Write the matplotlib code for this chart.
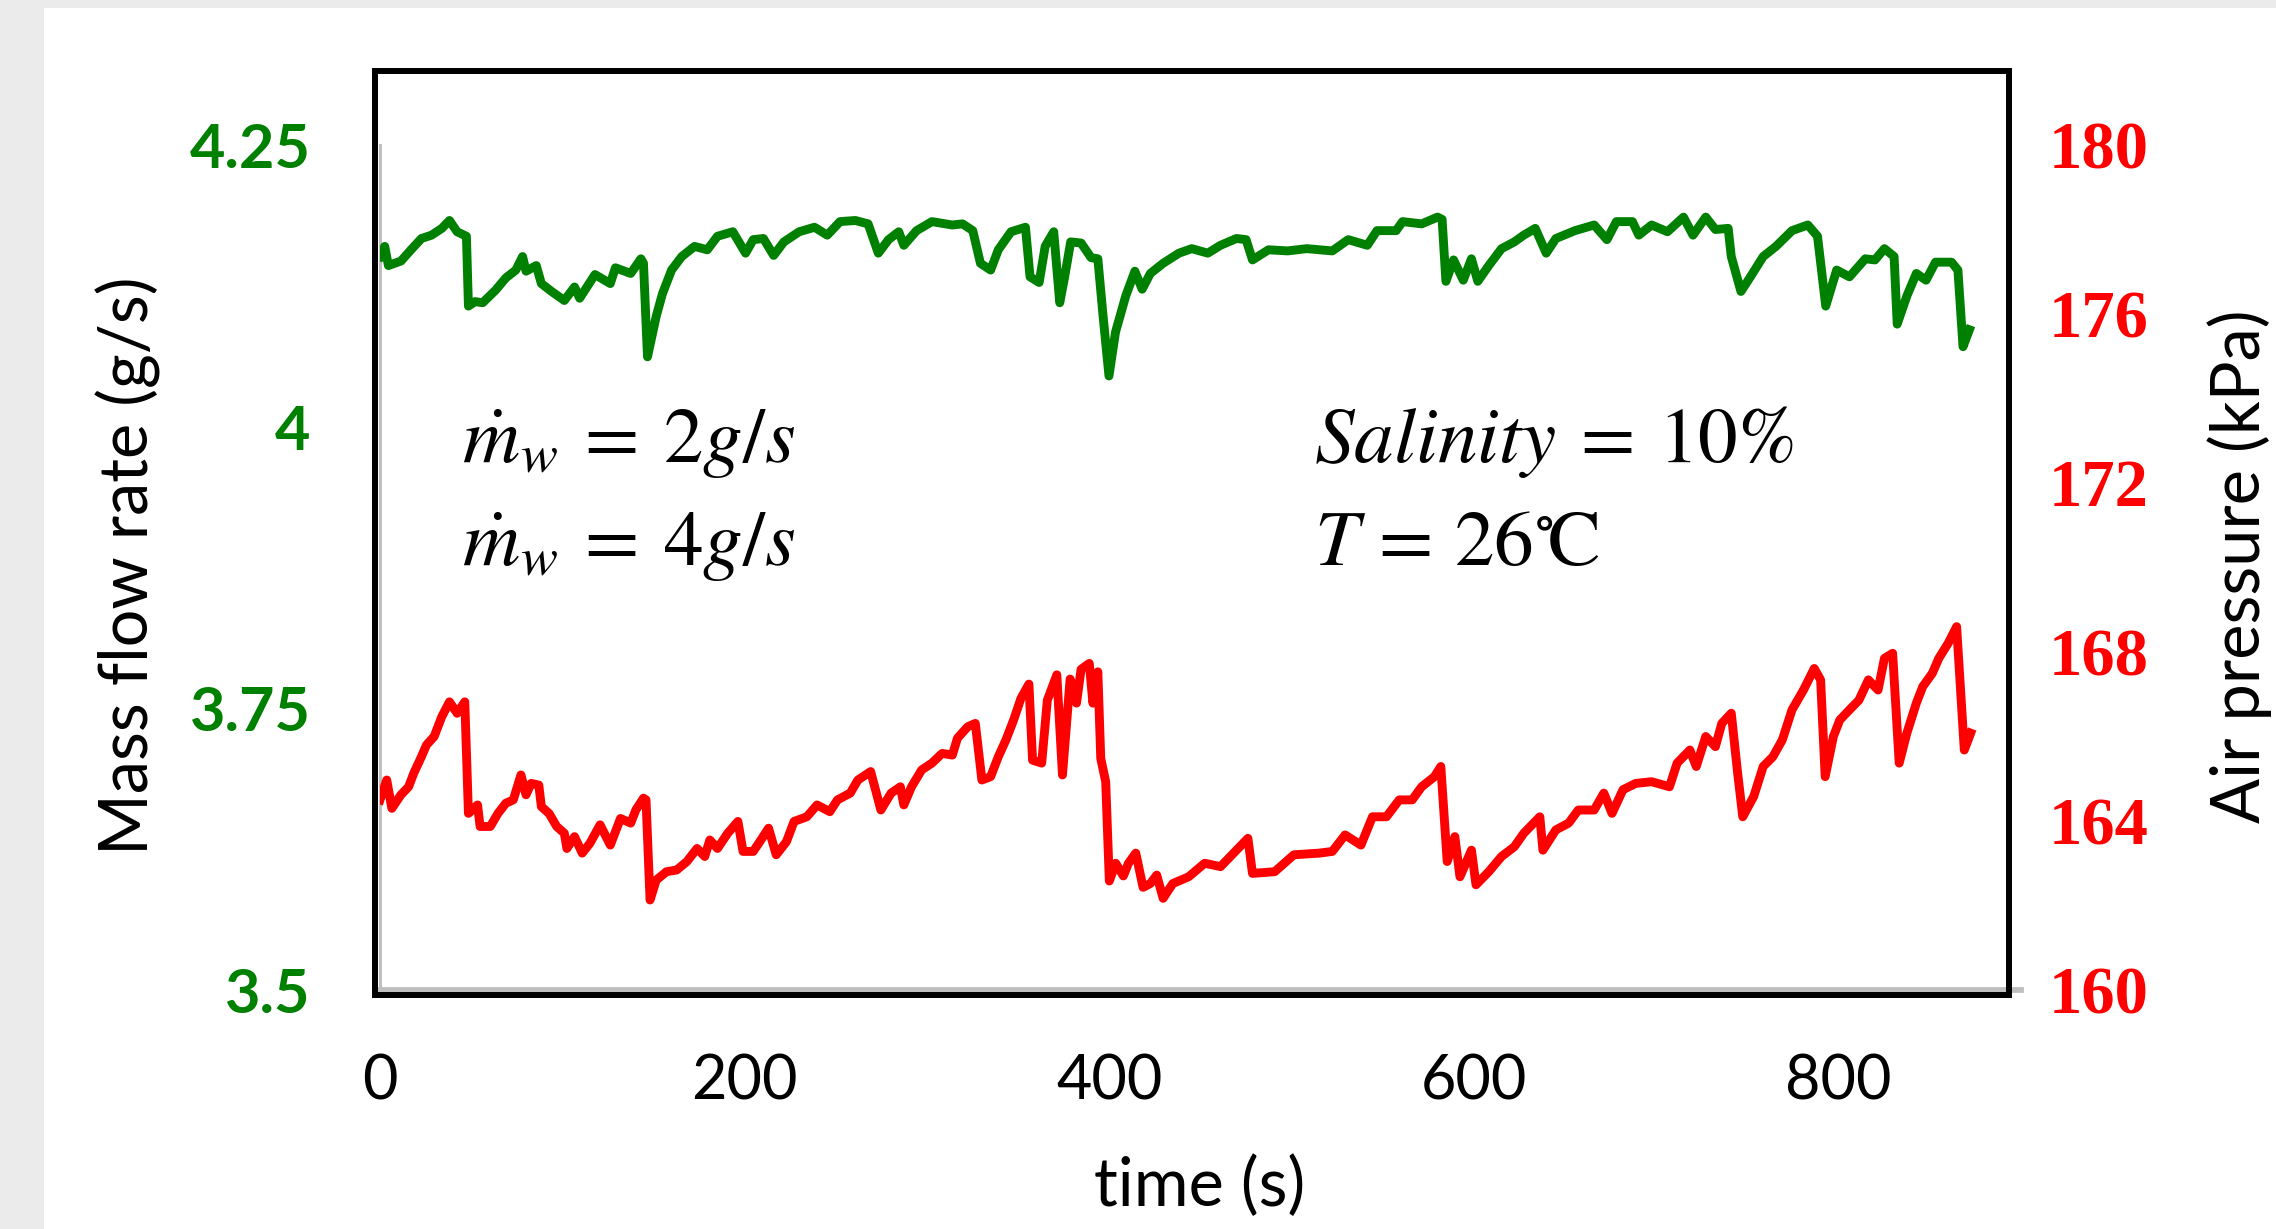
import matplotlib
matplotlib.use('Agg')
import matplotlib.pyplot as plt
from matplotlib.patches import Rectangle

# ---------------- data ----------------
time_green = [0, 2.6, 4.6, 11.5, 17, 22.7, 28.3, 33.9, 38.1, 42.3, 47.4, 48.5, 52.1, 56.3,
              63.3, 69, 74.5, 78.2, 80.1, 85.7, 88.5, 94.1, 101.1, 106.7, 109.5, 117.9,
              126.3, 129.1, 137.5, 143.1, 144.5, 146.7, 151.5, 154.9, 159.9, 165.5, 172.5,
              179.5, 185.1, 193.5, 200.5, 204.7, 210.3, 215.9, 221.5, 229.9, 238.3, 245.3,
              252.3, 260.7, 267.7, 273.3, 278.9, 284.5, 287.3, 294.3, 302.7, 313.9, 319.5,
              325.1, 329.3, 334.9, 339.1, 346.1, 354, 356.5, 361.5, 364.8, 369.5, 372.8,
              375.5, 378.8, 384.5, 390, 393.7, 396.4, 399.8, 403.4, 409, 414, 418, 422.5,
              429.5, 438.2, 445.2, 454, 461, 469.7, 475, 478.5, 487.3, 497.8, 508.3, 522.3,
              531, 541.5, 546.8, 557.3, 560.8, 571.3, 580, 582.5, 584.6, 588.8, 594.1,
              598.6, 602.1, 608.1, 615.1, 622.1, 627.3, 633.6, 639.6, 644.9, 655.4, 665.9,
              672.9, 678.1, 686.9, 690.4, 697.4, 706.1, 714.9, 720.1, 727.1, 732.4, 739.4,
              741.1, 746.4, 751.6, 758.6, 765.6, 774.4, 783.1, 788.4, 792.9, 798.9, 805.9,
              814.6, 819.9, 825.1, 830.4, 832.1, 837.4, 842.6, 847.9, 853.1, 861.9, 865.4,
              868.2, 871.7]
mass_flow = [4.151, 4.160, 4.143, 4.147, 4.157, 4.167, 4.170, 4.176, 4.183, 4.173, 4.169,
             4.107, 4.111, 4.110, 4.121, 4.132, 4.139, 4.151, 4.138, 4.143, 4.127, 4.120,
             4.112, 4.124, 4.114, 4.135, 4.127, 4.141, 4.136, 4.149, 4.145, 4.062, 4.098,
             4.118, 4.139, 4.151, 4.160, 4.157, 4.169, 4.173, 4.154, 4.166, 4.167, 4.152,
             4.164, 4.173, 4.177, 4.170, 4.182, 4.183, 4.180, 4.154, 4.166, 4.173, 4.161,
             4.174, 4.182, 4.179, 4.180, 4.174, 4.145, 4.139, 4.157, 4.173, 4.177, 4.133,
             4.128, 4.160, 4.173, 4.110, 4.133, 4.164, 4.163, 4.150, 4.149, 4.101, 4.045,
             4.084, 4.116, 4.138, 4.122, 4.136, 4.145, 4.154, 4.158, 4.154, 4.161, 4.167,
             4.166, 4.148, 4.157, 4.156, 4.158, 4.156, 4.166, 4.161, 4.174, 4.174, 4.182,
             4.180, 4.186, 4.184, 4.129, 4.148, 4.130, 4.149, 4.129, 4.143, 4.158, 4.164,
             4.170, 4.176, 4.154, 4.167, 4.174, 4.179, 4.166, 4.182, 4.182, 4.170, 4.179,
             4.173, 4.186, 4.170, 4.186, 4.175, 4.176, 4.151, 4.120, 4.133, 4.151, 4.160,
             4.174, 4.179, 4.169, 4.107, 4.139, 4.133, 4.149, 4.148, 4.158, 4.151, 4.091,
             4.116, 4.136, 4.130, 4.146, 4.146, 4.139, 4.071, 4.086]

time_red = [0, 3.7, 6.5, 11.5, 15.7, 18.5, 22.7, 25.5, 29.7, 33.9, 38.1, 42.3, 46.5, 48.5,
            53.5, 54.9, 60.5, 64.7, 69, 73.1, 77.3, 80.1, 82.9, 87.1, 88.5, 92.7, 96.9,
            101.1, 102.5, 106.7, 110.9, 115.1, 120.7, 126.3, 131.9, 137.5, 140.3, 144.5,
            145.9, 148.1, 151.5, 157.1, 162.7, 168.3, 173.9, 178.1, 180.9, 185.1, 190.7,
            196.3, 199.1, 204.7, 208.9, 213.1, 217.3, 222.9, 227.1, 234.1, 239.7, 246.7,
            250.9, 257.9, 262.1, 269.1, 274.7, 280.3, 285.4, 287.3, 291.5, 297.1, 302.7,
            308.3, 313.9, 316.7, 322.3, 326.5, 330.1, 334.9, 339.1, 343.3, 347.5, 351.5,
            355.9, 357.9, 362.9, 366, 371.2, 374.3, 378.5, 382, 384.5, 389, 391, 393.7,
            395.3, 398, 400, 403.5, 407.7, 410.5, 414.5, 418.5, 422.5, 426, 429.5, 434.8,
            443.5, 452.3, 461, 469.7, 476, 478.5, 490.7, 501.2, 515.2, 522.3, 529.3, 538,
            544.3, 552, 559, 566.1, 571.3, 578.3, 581.8, 585.3, 589.5, 592.3, 598.6, 601.1,
            608.1, 615.1, 622.1, 627.3, 636.1, 637.8, 644.9, 651.9, 657.2, 665.9, 671.2,
            675.7, 681.7, 688.7, 697.4, 707.2, 711.4, 718.4, 721.9, 727.1, 732.4, 735.9,
            741.1, 744.6, 747.4, 753.4, 758.6, 763.9, 769.1, 774.4, 780.7, 786.6, 790.1,
            792.6, 797.1, 800.6, 805.9, 811.1, 816.3, 821.6, 825.1, 829.6, 833.2, 837.4,
            842.6, 846.1, 851.4, 854.9, 860.1, 864.7, 868.9, 872.4]
air_pressure = [164.50, 164.97, 164.30, 164.62, 164.81, 165.13, 165.52, 165.80, 166.00,
                166.47, 166.82, 166.55, 166.82, 164.18, 164.38, 163.87, 163.87, 164.18,
                164.42, 164.50, 165.09, 164.62, 164.89, 164.85, 164.34, 164.18, 163.87,
                163.71, 163.35, 163.63, 163.24, 163.47, 163.91, 163.43, 164.06, 163.95,
                164.26, 164.54, 164.50, 162.13, 162.60, 162.80, 162.84, 163.04, 163.35,
                163.16, 163.55, 163.35, 163.71, 163.99, 163.28, 163.28, 163.55, 163.83,
                163.20, 163.51, 163.99, 164.10, 164.38, 164.22, 164.50, 164.66, 164.97,
                165.17, 164.26, 164.66, 164.81, 164.38, 164.81, 165.21, 165.37, 165.60,
                165.56, 165.96, 166.23, 166.31, 164.97, 165.05, 165.52, 165.92, 166.39,
                166.90, 167.24, 165.44, 165.37, 166.86, 167.46, 165.09, 167.36, 166.79,
                167.59, 167.73, 166.79, 167.53, 165.48, 164.93, 162.58, 163.00, 162.70,
                163.00, 163.24, 162.43, 162.52, 162.72, 162.17, 162.52, 162.68, 163.00,
                162.92, 163.31, 163.59, 162.76, 162.80, 163.20, 163.24, 163.28, 163.67,
                163.43, 164.10, 164.10, 164.50, 164.50, 164.81, 165.05, 165.29, 163.04,
                163.63, 162.68, 163.31, 162.49, 162.80, 163.16, 163.39, 163.71, 164.10,
                163.31, 163.79, 163.95, 164.26, 164.26, 164.66, 164.18, 164.74, 164.89,
                164.93, 164.81, 165.37, 165.68, 165.29, 166.00, 165.76, 166.31, 166.55,
                165.13, 164.10, 164.58, 165.29, 165.52, 165.92, 166.63, 167.10, 167.61,
                167.34, 165.05, 166.00, 166.39, 166.63, 166.86, 167.34, 167.10, 167.85,
                167.97, 165.37, 166.08, 166.79, 167.18, 167.50, 167.85, 168.21, 168.60,
                165.68, 166.08]

x_ticks = [0, 200, 400, 600, 800]
x_ticklabels = ['0', '200', '400', '600', '800']
left_ticks = [3.5, 3.75, 4.0, 4.25]
left_ticklabels = ['3.5', '3.75', '4', '4.25']
right_ticks = [160, 164, 168, 172, 176, 180]
right_ticklabels = ['160', '164', '168', '172', '176', '180']

x_label = 'time (s)'
left_label = 'Mass flow rate (g/s)'
right_label = 'Air pressure (kPa)'
notes_left = [r'$\dot{m}_w\:=\:2g/s$', r'$\dot{m}_w\:=\:4g/s$']
notes_right = [r'$Salinity\:=\:10\%$', r'$T\,=\,26{}^{\circ}\!\mathrm{C}$']

# ---------------- figure ----------------
plt.rcParams['mathtext.fontset'] = 'stix'
SANS = ['Lato', 'DejaVu Sans']
W, H, DPI = 2276, 1229, 100
fig = plt.figure(figsize=(W / DPI, H / DPI), dpi=DPI, facecolor='white')

# light grey frame strips (left and top)
fig.patches.append(Rectangle((0, 0), 44 / W, 1, transform=fig.transFigure,
                             facecolor='#ebebeb', edgecolor='none', zorder=-5))
fig.patches.append(Rectangle((0, 1 - 8 / H), 1, 8 / H, transform=fig.transFigure,
                             facecolor='#ebebeb', edgecolor='none', zorder=-5))

ax = fig.add_axes([380 / W, 239 / H, 1641 / W, 845 / H])
ax.set_facecolor('none')
ax2 = ax.twinx()

GREEN = '#008000'
RED = '#ff0000'
ax.plot(time_green, mass_flow, color=GREEN, lw=6.4, solid_joinstyle='round', zorder=3)
ax2.plot(time_red, air_pressure, color=RED, lw=6.4, solid_joinstyle='round', zorder=3)

ax.set_xlim(0, 900)
ax.set_ylim(3.5, 4.25)
ax2.set_ylim(160, 180)

ax.set_xticks(x_ticks)
ax.set_xticklabels(x_ticklabels, fontfamily=SANS, fontsize=44, color='black')
ax.set_yticks(left_ticks)
ax.set_yticklabels(left_ticklabels, fontfamily=SANS, fontsize=44, fontweight='bold',
                   color=GREEN)
ax2.set_yticks(right_ticks)
ax2.set_yticklabels(right_ticklabels, fontfamily=['Liberation Serif', 'DejaVu Serif'],
                    fontsize=48, fontweight='bold', color=RED)

ax.tick_params(axis='x', length=0, pad=46)
ax.tick_params(axis='y', length=0, pad=50)
ax2.tick_params(axis='y', length=0, pad=20)

for a in (ax, ax2):
    for s in ('top', 'right'):
        a.spines[s].set_visible(False)
ax2.spines['left'].set_visible(False)
ax2.spines['bottom'].set_visible(False)
ax.spines['left'].set_color('#bfbfbf')
ax.spines['left'].set_linewidth(2.2)
ax.spines['bottom'].set_color('#bfbfbf')
ax.spines['bottom'].set_linewidth(4.2)

# black frame drawn around the plot
fig.patches.append(Rectangle((375 / W, 1 - 995 / H), (2009 - 375) / W, (995 - 71) / H,
                             transform=fig.transFigure, facecolor='none',
                             edgecolor='black', lw=4.3, zorder=10))

# axis titles
fig.text(128 / W, 1 - 566 / H, left_label, rotation=90, ha='center', va='center',
         fontfamily=SANS, fontsize=48, color='black')
fig.text(2240 / W, 1 - 566 / H, right_label, rotation=90, ha='center', va='center',
         fontfamily=SANS, fontsize=48, color='black')
fig.text(1200 / W, 1 - 1187 / H, x_label, ha='center', va='center',
         fontfamily=SANS, fontsize=48, color='black')

# annotations
for txt, yb in zip(notes_left, [462, 565]):
    fig.text(462 / W, 1 - yb / H, txt, ha='left', va='baseline', fontsize=57, color='black')
for txt, yb in zip(notes_right, [462, 565]):
    fig.text(1314 / W, 1 - yb / H, txt, ha='left', va='baseline', fontsize=57, color='black')

fig.savefig('out.png', dpi=DPI, facecolor=fig.get_facecolor())
